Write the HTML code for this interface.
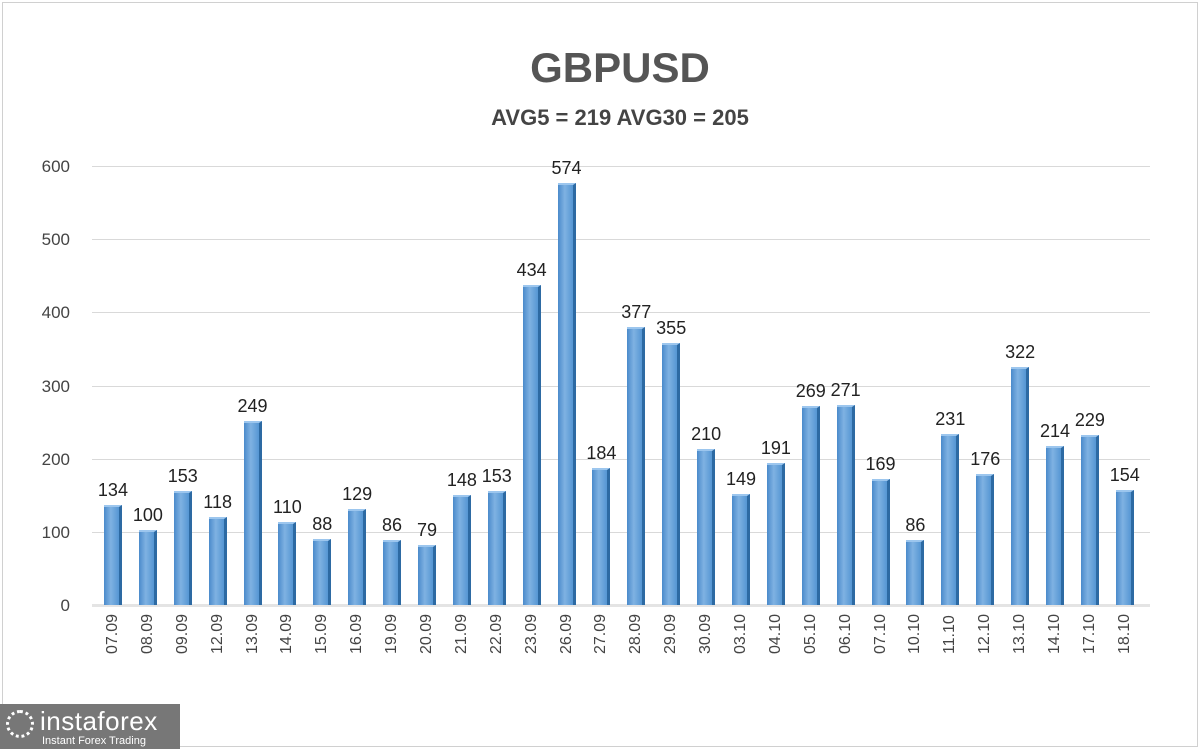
<!DOCTYPE html>
<html><head><style>
body{margin:0;width:1200px;height:749px;background:#fff;font-family:"Liberation Sans",sans-serif;position:relative;overflow:hidden}
.frame{position:absolute;left:2px;top:2px;width:1194px;height:743px;border:1px solid #d0d0d0}
.t1{position:absolute;left:0;width:1240px;top:44px;text-align:center;font-size:42px;font-weight:bold;color:#555}
.t2{position:absolute;left:0;width:1240px;top:105px;text-align:center;font-size:22px;font-weight:bold;color:#444}
.g{position:absolute;left:92px;width:1058px;height:1px;background:#d9d9d9}
.yl{position:absolute;left:20px;width:50px;text-align:right;font-size:17px;color:#444}
.bars{position:absolute;left:95.5px;top:100px;width:1047px;height:505px;display:flex;align-items:flex-end}
.c{width:34.9px;display:flex;flex-direction:column;align-items:center}
.c span{font-size:18px;color:#222;margin-bottom:4px;white-space:nowrap}
.b{width:15px;background:linear-gradient(90deg,#4a8acb,#7fb2e2 45%,#5596d3);border-right:3px solid #2d6aa3;border-top:2px solid #9cc6ee}
.xl{position:absolute;left:95.5px;top:614px;width:1047px;display:flex}
.xl div{width:34.9px;display:flex;justify-content:center}
.xl span{writing-mode:vertical-rl;transform:rotate(180deg);font-size:16px;color:#444}
.logo{position:absolute;left:0;top:704px;width:180px;height:45px;background:#777;color:#fff}
</style></head><body>
<div class="frame"></div>
<div class="t1">GBPUSD</div>
<div class="t2">AVG5 = 219 AVG30 = 205</div>
<div class="g" style="top:166px"></div><div class="g" style="top:239px"></div><div class="g" style="top:312px"></div><div class="g" style="top:386px"></div><div class="g" style="top:459px"></div><div class="g" style="top:532px"></div><div class="g" style="top:604px;height:3px;background:#e4e4e4"></div>
<div class="yl" style="top:157px">600</div><div class="yl" style="top:230px">500</div><div class="yl" style="top:303px">400</div><div class="yl" style="top:377px">300</div><div class="yl" style="top:450px">200</div><div class="yl" style="top:523px">100</div><div class="yl" style="top:596px">0</div>
<div class="bars">
<div class="c"><span>134</span><div class="b" style="height:calc(134px*0.732)"></div></div>
<div class="c"><span>100</span><div class="b" style="height:calc(100px*0.732)"></div></div>
<div class="c"><span>153</span><div class="b" style="height:calc(153px*0.732)"></div></div>
<div class="c"><span>118</span><div class="b" style="height:calc(118px*0.732)"></div></div>
<div class="c"><span>249</span><div class="b" style="height:calc(249px*0.732)"></div></div>
<div class="c"><span>110</span><div class="b" style="height:calc(110px*0.732)"></div></div>
<div class="c"><span>88</span><div class="b" style="height:calc(88px*0.732)"></div></div>
<div class="c"><span>129</span><div class="b" style="height:calc(129px*0.732)"></div></div>
<div class="c"><span>86</span><div class="b" style="height:calc(86px*0.732)"></div></div>
<div class="c"><span>79</span><div class="b" style="height:calc(79px*0.732)"></div></div>
<div class="c"><span>148</span><div class="b" style="height:calc(148px*0.732)"></div></div>
<div class="c"><span>153</span><div class="b" style="height:calc(153px*0.732)"></div></div>
<div class="c"><span>434</span><div class="b" style="height:calc(434px*0.732)"></div></div>
<div class="c"><span>574</span><div class="b" style="height:calc(574px*0.732)"></div></div>
<div class="c"><span>184</span><div class="b" style="height:calc(184px*0.732)"></div></div>
<div class="c"><span>377</span><div class="b" style="height:calc(377px*0.732)"></div></div>
<div class="c"><span>355</span><div class="b" style="height:calc(355px*0.732)"></div></div>
<div class="c"><span>210</span><div class="b" style="height:calc(210px*0.732)"></div></div>
<div class="c"><span>149</span><div class="b" style="height:calc(149px*0.732)"></div></div>
<div class="c"><span>191</span><div class="b" style="height:calc(191px*0.732)"></div></div>
<div class="c"><span>269</span><div class="b" style="height:calc(269px*0.732)"></div></div>
<div class="c"><span>271</span><div class="b" style="height:calc(271px*0.732)"></div></div>
<div class="c"><span>169</span><div class="b" style="height:calc(169px*0.732)"></div></div>
<div class="c"><span>86</span><div class="b" style="height:calc(86px*0.732)"></div></div>
<div class="c"><span>231</span><div class="b" style="height:calc(231px*0.732)"></div></div>
<div class="c"><span>176</span><div class="b" style="height:calc(176px*0.732)"></div></div>
<div class="c"><span>322</span><div class="b" style="height:calc(322px*0.732)"></div></div>
<div class="c"><span>214</span><div class="b" style="height:calc(214px*0.732)"></div></div>
<div class="c"><span>229</span><div class="b" style="height:calc(229px*0.732)"></div></div>
<div class="c"><span>154</span><div class="b" style="height:calc(154px*0.732)"></div></div>
</div>
<div class="xl">
<div><span>07.09</span></div><div><span>08.09</span></div><div><span>09.09</span></div><div><span>12.09</span></div><div><span>13.09</span></div><div><span>14.09</span></div><div><span>15.09</span></div><div><span>16.09</span></div><div><span>19.09</span></div><div><span>20.09</span></div><div><span>21.09</span></div><div><span>22.09</span></div><div><span>23.09</span></div><div><span>26.09</span></div><div><span>27.09</span></div><div><span>28.09</span></div><div><span>29.09</span></div><div><span>30.09</span></div><div><span>03.10</span></div><div><span>04.10</span></div><div><span>05.10</span></div><div><span>06.10</span></div><div><span>07.10</span></div><div><span>10.10</span></div><div><span>11.10</span></div><div><span>12.10</span></div><div><span>13.10</span></div><div><span>14.10</span></div><div><span>17.10</span></div><div><span>18.10</span></div>
</div>
<div class="logo">
<div style="position:absolute;left:6px;top:6px;width:28px;height:28px;border-radius:50%;border:3px dotted #fff;box-sizing:border-box"></div>
<div style="position:absolute;left:40px;top:2px;font-size:26px;letter-spacing:0.5px">instaforex</div>
<div style="position:absolute;left:42px;top:31px;font-size:11px">Instant Forex Trading</div>
</div>
</body></html>
